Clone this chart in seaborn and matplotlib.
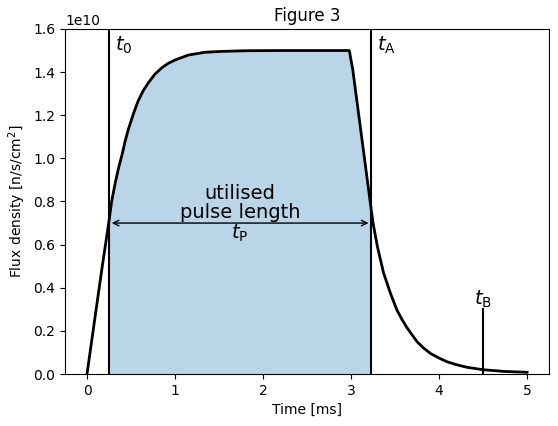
import seaborn as sns
import matplotlib
matplotlib.use("Agg")
import matplotlib.pyplot as plt
import pandas as pd

# values (flux in units of 1e10 n/s/cm^2)
time_ms = [0, 0.09, 0.17, 0.25, 0.28, 0.32, 0.36, 0.40, 0.43, 0.47, 0.53,
           0.58, 0.64, 0.70, 0.77, 0.85, 0.92, 1.0, 1.15, 1.34, 1.53, 1.8,
           2.2, 2.6, 2.98, 3.02, 3.23, 3.25, 3.30, 3.37, 3.447, 3.52, 3.58,
           3.64, 3.75, 3.82, 3.90, 4.0, 4.09, 4.2, 4.32, 4.5, 4.74, 5.0]
flux_e10 = [0, 0.26, 0.49, 0.71, 0.80, 0.885, 0.958, 1.02, 1.075, 1.135,
            1.21, 1.265, 1.315, 1.352, 1.39, 1.42, 1.44, 1.456, 1.479, 1.492,
            1.496, 1.499, 1.5, 1.5, 1.5, 1.41, 0.76, 0.70, 0.59, 0.468,
            0.375, 0.298, 0.252, 0.212, 0.15, 0.122, 0.096, 0.074, 0.057,
            0.043, 0.031, 0.020, 0.012, 0.008]

t0 = 0.25
tA = 3.23
tB = 4.5
tB_height = 0.3e10
tP_level = 0.7e10

df = pd.DataFrame({'time': time_ms, 'flux': [v * 1e10 for v in flux_e10]})

fig = plt.figure(figsize=(5.58, 4.26), dpi=100)
ax = fig.add_axes([0.1165, 0.122, 0.8675, 0.81])

sns.lineplot(x='time', y='flux', data=df, color='black', linewidth=2,
             estimator=None, ax=ax)

# shaded utilised pulse
sel = df[(df['time'] >= t0) & (df['time'] <= tA)]
ax.fill_between(sel['time'], 0, sel['flux'], color='C0', alpha=0.3, linewidth=0)

# marker lines
ax.axvline(t0, color='black', linewidth=1.5)
ax.axvline(tA, color='black', linewidth=1.5)
ax.plot([tB, tB], [0, tB_height], color='black', linewidth=1.5)

ax.text(t0 + 0.07, 1.5e10, r'$t_0$', fontsize=14)
ax.text(tA + 0.07, 1.5e10, r'$t_\mathrm{A}$', fontsize=14)
ax.text(tB - 0.1, 0.32e10, r'$t_\mathrm{B}$', fontsize=14)

# pulse length arrow
ax.annotate('', xy=(t0, tP_level), xytext=(tA, tP_level),
            arrowprops=dict(arrowstyle='<->', color='black', lw=1))
mid = (t0 + tA) / 2
ax.text(mid, tP_level + 0.005e10, 'utilised\npulse length', ha='center',
        va='bottom', fontsize=14, linespacing=1.0)
ax.text(mid, tP_level, r'$t_\mathrm{P}$', ha='center', va='top',
        fontsize=14)

ax.set_xlim(-0.25, 5.25)
ax.set_ylim(0, 1.6e10)
ax.set_xlabel('Time [ms]')
ax.set_ylabel(r'Flux density [n/s/cm$^2$]')
ax.set_title('Figure 3')

fig.savefig('out.png', dpi=100)
